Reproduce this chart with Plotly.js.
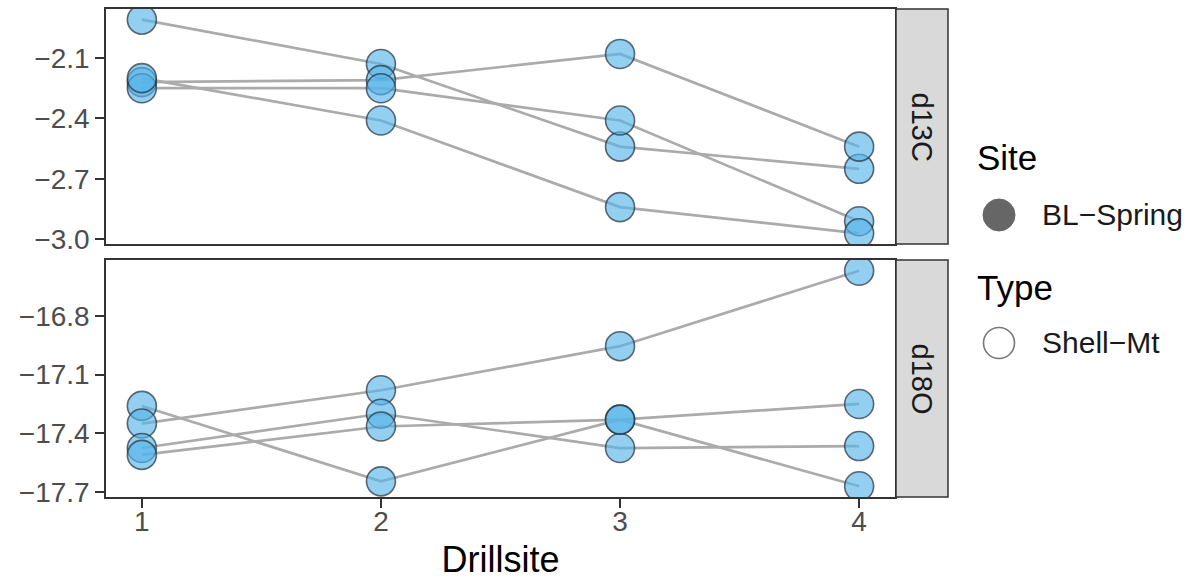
<!DOCTYPE html>
<html><head><meta charset="utf-8">
<script src="https://cdn.plot.ly/plotly-3.0.1.min.js"></script>
<style>html,body{margin:0;padding:0;background:#fff}#chart{width:1202px;height:584px}</style>
</head><body><div id="chart"></div>
<script>
// ---- data ----
const drillsite = [1, 2, 3, 4];
const drillTickText = ['1', '2', '3', '4'];

// d13C panel, one array per shell series
const d13C_s1 = [-1.91, -2.13, -2.54, -2.65];
const d13C_s2 = [-2.22, -2.21, -2.08, -2.54];
const d13C_s3 = [-2.25, -2.25, -2.41, -2.91];
const d13C_s4 = [-2.20, -2.41, -2.84, -2.97];
const d13C_ticks = [-3.0, -2.7, -2.4, -2.1];
const d13C_tickText = ['\u22123.0', '\u22122.7', '\u22122.4', '\u22122.1'];

// d18O panel
const d18O_s1 = [-17.26, -17.645, -17.33, -17.25];
const d18O_s2 = [-17.35, -17.18, -16.955, -16.57];
const d18O_s3 = [-17.475, -17.30, -17.475, -17.465];
const d18O_s4 = [-17.51, -17.365, -17.33, -17.67];
const d18O_ticks = [-17.7, -17.4, -17.1, -16.8];
const d18O_tickText = ['\u221217.7', '\u221217.4', '\u221217.1', '\u221216.8'];

const facetLabels = ['d13C', 'd18O'];
const legendTitles = ['Site', 'Type'];
const legendLabels = ['BL\u2212Spring', 'Shell\u2212Mt'];

// ---- build ----
const topSeries = [d13C_s1, d13C_s2, d13C_s3, d13C_s4];
const botSeries = [d18O_s1, d18O_s2, d18O_s3, d18O_s4];

function expand(series) {
  const all = [].concat(...series);
  const lo = Math.min(...all), hi = Math.max(...all);
  const pad = (hi - lo) * 0.05;
  return [lo - pad, hi + pad];
}

const lineStyle = {color: '#ABABAB', width: 2.7};
const markerStyle = {size: 29, color: 'rgba(86,180,233,0.64)', line: {color: 'rgba(35,45,55,0.70)', width: 1.6}};
const traces = [];
[[topSeries, 'x2', 'y2'], [botSeries, 'x', 'y']].forEach(([ser, xa, ya]) => {
  ser.forEach(s => traces.push({x: drillsite, y: s, xaxis: xa, yaxis: ya, mode: 'lines', line: lineStyle, showlegend: false, hoverinfo: 'skip'}));
});
[[topSeries, 'x2', 'y2'], [botSeries, 'x', 'y']].forEach(([ser, xa, ya]) => {
  ser.forEach(s => traces.push({x: drillsite, y: s, xaxis: xa, yaxis: ya, mode: 'markers', marker: markerStyle, showlegend: false, hoverinfo: 'skip', cliponaxis: true}));
});

const W = 1202, H = 584;
const L = 106, R = 895, T = 9, B = 497;
const pw = R - L, ph = B - T;
const px = v => (v - L) / pw;
const py = v => (B - v) / ph;

const axCommon = {showline: true, mirror: true, linecolor: '#333333', linewidth: 1.5, showgrid: false, zeroline: false,
  ticks: 'outside', ticklen: 9, tickwidth: 1.5, tickcolor: '#333333', tickfont: {size: 28, color: '#4D4D4D'}};

const layout = {
  width: W, height: H,
  margin: {l: L, r: W - R, t: T, b: H - B, pad: 0},
  paper_bgcolor: '#ffffff', plot_bgcolor: '#ffffff',
  font: {family: 'Liberation Sans, Arial, sans-serif', color: '#000'},
  showlegend: false,
  xaxis: Object.assign({}, axCommon, {domain: [0, 1], anchor: 'y', range: [0.85, 4.15], tickvals: drillsite, ticktext: drillTickText,
    ticklabelstandoff: -10, title: {text: 'Drillsite', font: {size: 36, color: '#000'}, standoff: 10}}),
  xaxis2: Object.assign({}, axCommon, {domain: [0, 1], anchor: 'y2', range: [0.85, 4.15], matches: 'x', showticklabels: false, ticks: ''}),
  yaxis: Object.assign({}, axCommon, {domain: [0, py(260)], anchor: 'x', range: expand(botSeries), tickvals: d18O_ticks, ticktext: d18O_tickText}),
  yaxis2: Object.assign({}, axCommon, {domain: [py(244), 1], anchor: 'x2', range: expand(topSeries), tickvals: d13C_ticks, ticktext: d13C_tickText}),
  shapes: [
    {type: 'rect', xref: 'paper', yref: 'y2 domain', x0: px(896), x1: px(948), y0: 0, y1: 1, fillcolor: '#D9D9D9', line: {color: '#333333', width: 1.5}},
    {type: 'rect', xref: 'paper', yref: 'y domain', x0: px(896), x1: px(948), y0: 0, y1: 1, fillcolor: '#D9D9D9', line: {color: '#333333', width: 1.5}},
    {type: 'circle', xref: 'paper', yref: 'paper', xsizemode: 'pixel', ysizemode: 'pixel', xanchor: px(999), yanchor: py(215), x0: -16, x1: 16, y0: -16, y1: 16, fillcolor: '#666666', line: {color: '#666666', width: 1}},
    {type: 'circle', xref: 'paper', yref: 'paper', xsizemode: 'pixel', ysizemode: 'pixel', xanchor: px(999), yanchor: py(343), x0: -15.5, x1: 15.5, y0: -15.5, y1: 15.5, fillcolor: 'rgba(0,0,0,0)', line: {color: '#777777', width: 1.6}}
  ],
  annotations: [
    {xref: 'paper', yref: 'y2 domain', x: px(922), y: 0.5, xanchor: 'center', yanchor: 'middle', text: facetLabels[0], textangle: 90, showarrow: false, font: {size: 29, color: '#1A1A1A'}},
    {xref: 'paper', yref: 'y domain', x: px(922), y: 0.5, xanchor: 'center', yanchor: 'middle', text: facetLabels[1], textangle: 90, showarrow: false, font: {size: 29, color: '#1A1A1A'}},
    {xref: 'paper', yref: 'paper', x: px(975), y: py(157), xanchor: 'left', yanchor: 'middle', text: legendTitles[0], showarrow: false, font: {size: 35, color: '#000'}},
    {xref: 'paper', yref: 'paper', x: px(1040), y: py(215), xanchor: 'left', yanchor: 'middle', text: legendLabels[0], showarrow: false, font: {size: 30, color: '#1A1A1A'}},
    {xref: 'paper', yref: 'paper', x: px(975), y: py(287), xanchor: 'left', yanchor: 'middle', text: legendTitles[1], showarrow: false, font: {size: 35, color: '#000'}},
    {xref: 'paper', yref: 'paper', x: px(1040), y: py(343), xanchor: 'left', yanchor: 'middle', text: legendLabels[1], showarrow: false, font: {size: 30, color: '#1A1A1A'}}
  ]
};

Plotly.newPlot('chart', traces, layout, {displayModeBar: false, responsive: false});
</script>
</body></html>
